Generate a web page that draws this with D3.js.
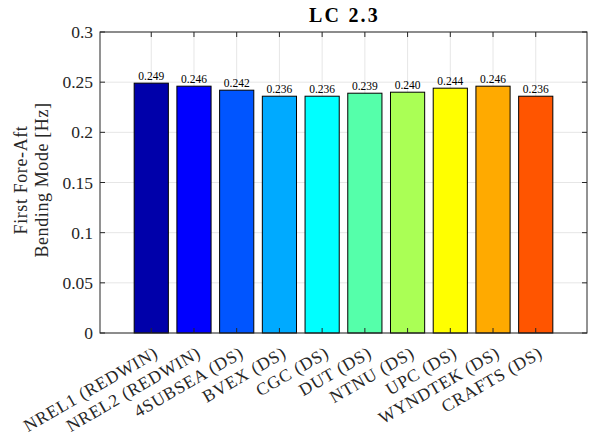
<!DOCTYPE html>
<html><head><meta charset="utf-8">
<script src="https://cdn.jsdelivr.net/npm/d3@7"></script>
<style>body{margin:0;background:#fff}svg{display:block}text{font-family:"Liberation Serif","DejaVu Serif",serif;fill:#262626}</style>
</head><body><svg id="c" width="594" height="436"></svg>
<script>
const categories = ["NREL1 (REDWIN)","NREL2 (REDWIN)","4SUBSEA (DS)","BVEX (DS)","CGC (DS)","DUT (DS)","NTNU (DS)","UPC (DS)","WYNDTEK (DS)","CRAFTS (DS)"];
const values = [0.249,0.246,0.242,0.236,0.236,0.239,0.240,0.244,0.246,0.236];
const valueLabels = ["0.249","0.246","0.242","0.236","0.236","0.239","0.240","0.244","0.246","0.236"];
const colors = ["#0000AA","#0000FF","#0055FF","#00AAFF","#00FFFF","#55FFAA","#AAFF55","#FFFF00","#FFAA00","#FF5500"];
const yTicks = [0,0.05,0.1,0.15,0.2,0.25,0.3];
const yTickLabels = ["0","0.05","0.1","0.15","0.2","0.25","0.3"];
const title = "LC 2.3";
const yLabel = ["First Fore-Aft","Bending Mode [Hz]"];

const svg = d3.select("#c");
const L=100,R=587,T=32,B=333;
const x = d3.scaleLinear().domain([-0.2,11.2]).range([L,R]);
const y = d3.scaleLinear().domain([0,0.3]).range([B,T]);
const g = svg.append("g");
// grid
g.selectAll(".gy").data(yTicks).enter().append("line")
 .attr("x1",L).attr("x2",R).attr("y1",d=>y(d)).attr("y2",d=>y(d))
 .attr("stroke","#e6e6e6").attr("stroke-width",1);
g.selectAll(".gx").data(categories).enter().append("line")
 .attr("x1",(d,i)=>x(i+1)).attr("x2",(d,i)=>x(i+1)).attr("y1",T).attr("y2",B)
 .attr("stroke","#e6e6e6").attr("stroke-width",1);
// bars
const bw = x(0.8)-x(0);
g.selectAll(".bar").data(values).enter().append("rect")
 .attr("x",(d,i)=>x(i+1)-bw/2).attr("width",bw)
 .attr("y",d=>y(d)).attr("height",d=>B-y(d))
 .attr("fill",(d,i)=>colors[i]).attr("stroke","#000").attr("stroke-width",1);
// value labels
g.selectAll(".vl").data(values).enter().append("text")
 .attr("x",(d,i)=>x(i+1)).attr("y",d=>y(d)-3)
 .attr("text-anchor","middle").attr("font-size",11.5).style("fill","#000")
 .text((d,i)=>valueLabels[i]);
// ticks inside
const tl=5;
g.selectAll(".tx").data(categories).enter().append("line")
 .attr("x1",(d,i)=>x(i+1)).attr("x2",(d,i)=>x(i+1)).attr("y1",B).attr("y2",B-tl)
 .attr("stroke","#262626");
g.selectAll(".txt").data(categories).enter().append("line")
 .attr("x1",(d,i)=>x(i+1)).attr("x2",(d,i)=>x(i+1)).attr("y1",T).attr("y2",T+tl)
 .attr("stroke","#262626");
g.selectAll(".ty").data(yTicks).enter().append("line")
 .attr("x1",L).attr("x2",L+tl).attr("y1",d=>y(d)).attr("y2",d=>y(d)).attr("stroke","#262626");
g.selectAll(".tyr").data(yTicks).enter().append("line")
 .attr("x1",R).attr("x2",R-tl).attr("y1",d=>y(d)).attr("y2",d=>y(d)).attr("stroke","#262626");
// box
g.append("rect").attr("x",L).attr("y",T).attr("width",R-L).attr("height",B-T)
 .attr("fill","none").attr("stroke","#262626").attr("stroke-width",1);
// y tick labels
g.selectAll(".yl").data(yTicks).enter().append("text")
 .attr("x",L-7).attr("y",d=>y(d)+6).attr("text-anchor","end").attr("font-size",17.5)
 .text((d,i)=>yTickLabels[i]);
// x labels
g.selectAll(".xl").data(categories).enter().append("text")
 .attr("transform",(d,i)=>`translate(${x(i+1)+5},${B+18}) rotate(-30)`)
 .attr("text-anchor","end").attr("font-size",17.5).attr("letter-spacing",0.8).attr("dy","0.35em")
 .text(d=>d);
// y label
const yl = g.append("text").attr("transform",`translate(29,180) rotate(-90)`)
 .attr("text-anchor","middle").attr("font-size",18).attr("letter-spacing",0.6);
yl.append("tspan").attr("x",0).attr("dy",-2).text(yLabel[0]);
yl.append("tspan").attr("x",0).attr("dy",21).text(yLabel[1]);
// title
g.append("text").attr("x",(L+R)/2+1).attr("y",22).attr("text-anchor","middle")
 .attr("font-size",20).attr("font-weight","bold").attr("letter-spacing",2.2).style("fill","#000").text(title);
</script></body></html>
